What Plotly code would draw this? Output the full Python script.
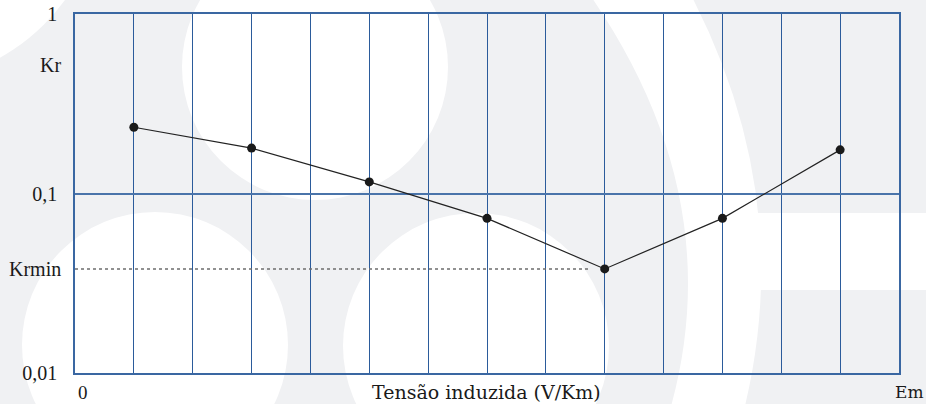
import math
import plotly.graph_objects as go

# ---- data ----
x_pos = [1, 3, 5, 7, 9, 11, 13]
kr_values = [0.234, 0.179, 0.116, 0.0727, 0.038, 0.0727, 0.175]
y_tickvals = [0.01, 0.1, 1]
y_ticktext = ["0,01", "0,1", "1"]
x_range = [0, 14]
kr_label_log = -0.284
x_title = "Tensão induzida (V/Km)"

# ---- layout geometry (pixels) ----
WIDTH, HEIGHT = 926, 404
L, R, T, B = 75, 27, 14, 31
PW, PH = WIDTH - L - R, HEIGHT - T - B


def px(x):
    return (x - L) / PW


def py(y):
    return (T + PH - y) / PH


BG_GRAY = "#f0f1f3"
GRID = "#2b5b9b"
TXT = "#1a1a1a"

fig = go.Figure()

# Krmin dotted reference line
kr_min = min(kr_values)
x_at_min = x_pos[kr_values.index(kr_min)]
fig.add_trace(go.Scatter(
    x=[x_range[0], x_at_min - 0.25], y=[kr_min, kr_min],
    mode="lines", line=dict(color="#6e6e6e", width=1.5, dash="dot"),
    hoverinfo="skip", showlegend=False,
))

# main series
fig.add_trace(go.Scatter(
    x=x_pos, y=kr_values, mode="lines+markers",
    line=dict(color="#222222", width=1.2),
    marker=dict(color="#1a1a1a", size=9),
    showlegend=False,
))

# ---- watermark background shapes (white on light gray) ----
shapes = []


def circle(cx, cy, r):
    return dict(type="circle", xref="paper", yref="paper",
                x0=px(cx - r), x1=px(cx + r), y0=py(cy + r), y1=py(cy - r),
                fillcolor="white", line=dict(width=0), layer="below")


shapes.append(circle(315, 67, 133))
shapes.append(circle(155, 345, 133))
shapes.append(circle(476, 346, 133))
shapes.append(circle(-100, -120, 204))


def P(x, y):
    return f"{px(x):.5f},{py(y):.5f}"


band = (f"M {P(590, -5)} Q {P(730, 198)} {P(670, 410)} "
        f"L {P(744, 410)} Q {P(796, 198)} {P(691, -5)} Z")
shapes.append(dict(type="path", xref="paper", yref="paper", path=band,
                   fillcolor="white", line=dict(width=0), layer="below"))
shapes.append(dict(type="rect", xref="paper", yref="paper",
                   x0=px(700), x1=px(935), y0=py(290), y1=py(213),
                   fillcolor="white", line=dict(width=0), layer="below"))

serif = dict(family="Liberation Serif, Times New Roman, serif", size=20, color=TXT)
dserif = dict(family="DejaVu Serif, serif", size=19, color=TXT)

fig.update_layout(
    width=WIDTH, height=HEIGHT,
    margin=dict(l=L, r=R, t=T, b=B, pad=0, autoexpand=False),
    paper_bgcolor=BG_GRAY,
    plot_bgcolor="rgba(0,0,0,0)",
    shapes=shapes,
    showlegend=False,
    xaxis=dict(
        range=x_range, tickmode="linear", tick0=0, dtick=1,
        showticklabels=False, ticks="", automargin=False,
        showgrid=True, gridcolor=GRID, gridwidth=1.3,
        zeroline=False,
        showline=True, linecolor="#3a67a2", linewidth=1.5, mirror=True,
    ),
    yaxis=dict(
        type="log", range=[-2, 0], automargin=False,
        tickmode="array", tickvals=y_tickvals, ticktext=y_ticktext,
        ticks="", ticklabelstandoff=12,
        tickfont=serif,
        showgrid=True, gridcolor="#4a74aa", gridwidth=2,
        zeroline=False,
        showline=True, linecolor="#3a67a2", linewidth=1.5, mirror=True,
    ),
    annotations=[
        dict(text="Kr", xref="paper", yref="y", x=0, y=kr_label_log,
             xanchor="right", yanchor="middle", xshift=-12, showarrow=False,
             font=serif),
        dict(text="Krmin", xref="paper", yref="y", x=0, y=math.log10(kr_min),
             xanchor="right", yanchor="middle", xshift=-12, showarrow=False,
             font=serif),
        dict(text="0", xref="paper", yref="paper", x=px(76), y=py(392),
             xanchor="left", yanchor="middle", showarrow=False,
             font=dict(serif, size=19)),
        dict(text=x_title, xref="paper", yref="paper", x=px(486), y=py(392),
             xanchor="center", yanchor="middle", showarrow=False, font=dserif),
        dict(text="Em", xref="paper", yref="paper", x=px(893), y=py(392),
             xanchor="left", yanchor="middle", showarrow=False,
             font=dict(dserif, size=17)),
    ],
)

fig.write_html(
    "out.html",
    config={"displayModeBar": False},
    post_script="document.body.style.margin='0';"
                "document.body.style.overflow='hidden';"
                "document.body.style.background='#f0f1f3';",
)
